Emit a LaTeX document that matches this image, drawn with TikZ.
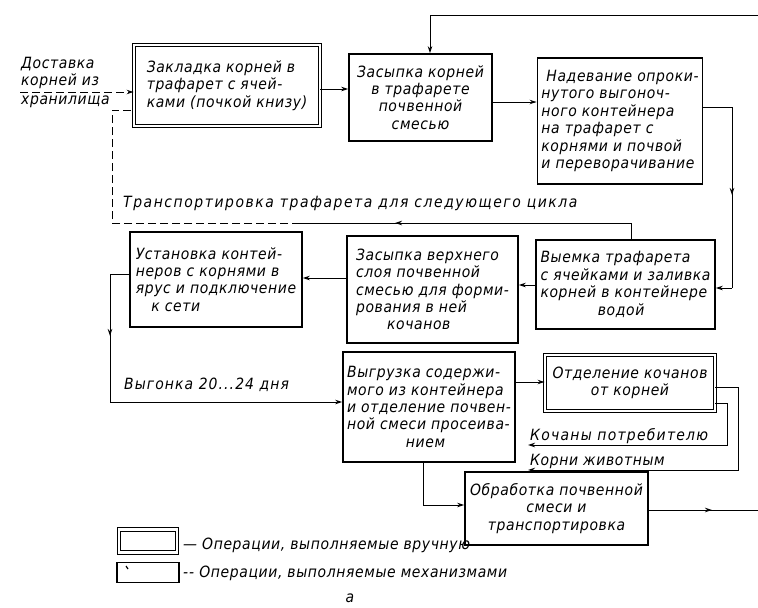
\documentclass[tikz,border=0pt]{standalone}
\usepackage{fontspec}
\setmainfont{DejaVu Sans}[FakeStretch=0.9, LetterSpace=4]
\usetikzlibrary{arrows.meta}
\begin{document}
\begin{tikzpicture}[x=1pt,y=-1pt,
  txt/.style={font=\itshape\fontsize{15.5}{17.4}\selectfont},
  mech/.style={txt, draw, line width=1.7pt, inner xsep=4pt, inner ysep=2pt},
  manual/.style={txt, draw, line width=0.9pt, double, double distance=2.8pt, inner xsep=5pt, inner ysep=3pt},
  lbl/.style={txt, inner sep=0pt},
  conn/.style={line width=1pt},
  dsh/.style={dash pattern=on 8pt off 4pt},
  arr/.style={-{Stealth[length=7pt,width=4.5pt]}}
]
\useasboundingbox (0,0) rectangle (758,608);

% boxes
\node[manual, minimum width=186pt, minimum height=81pt, align=left] (b1) at (227,85.5)
  {Закладка корней в\\трафарет с ячей-\\ками (почкой книзу)};
\node[mech, minimum width=143pt, minimum height=87pt, align=center] (b2) at (420.5,97.5)
  {Засыпка корней\\в трафарете\\почвенной\\смесью};
\node[mech, minimum width=156pt, minimum height=126pt, align=left] (b3) at (620,121)
  {\ Надевание опроки-\\нутого выгоноч-\\ного контейнера\\на трафарет с\\корнями и почвой\\и переворачивание};
\node[mech, minimum width=179pt, minimum height=89pt, align=left] (b4) at (625.5,284.5)
  {Выемка трафарета\\с ячейками и заливка\\корней в контейнере\\\hspace*{3.7em}водой};
\node[mech, minimum width=171pt, minimum height=107pt, align=left] (b5) at (432.5,289.5)
  {Засыпка верхнего\\слоя почвенной\\смесью для форми-\\рования в ней\\\hspace*{2em}кочанов};
\node[mech, minimum width=172pt, minimum height=95pt, align=left] (b9) at (216,279.5)
  {Установка контей-\\неров с корнями в\\ярус и подключение\\\hspace*{1em}к сети};
\node[mech, minimum width=172pt, minimum height=110pt, align=left] (b6) at (429,407)
  {Выгрузка содержи-\\мого из контейнера\\и отделение почвен-\\ной смеси просеива-\\\hspace*{3.8em}нием};
\node[manual, minimum width=170pt, minimum height=56pt, align=center] (b7) at (630,383)
  {Отделение кочанов\\от корней};
\node[mech, minimum width=183pt, minimum height=73pt, align=center] (b8) at (556.5,508.5)
  {Обработка почвенной\\смеси и\\транспортировка};

% free labels
\node[lbl, anchor=south west, align=left] (dost) at (21,89) {Доставка\\корней из};
\node[lbl, anchor=north west] (hran) at (21,96) {хранилища};
\node[lbl, anchor=base west, font=\itshape\fontsize{15.5}{17.4}\selectfont\addfontfeature{LetterSpace=10}] (trans) at (123,207) {Транспортировка трафарета для следующего цикла};
\node[lbl, anchor=base west, font=\itshape\fontsize{15.5}{17.4}\selectfont\addfontfeature{LetterSpace=7}] (vyg) at (124,389) {Выгонка 20...24 дня};
\node[lbl, anchor=base west, font=\itshape\fontsize{15.5}{17.4}\selectfont\addfontfeature{LetterSpace=8}] (koch) at (530,440) {Кочаны потребителю};
\node[lbl, anchor=base west] (korn) at (530,465) {Корни животным};

% coordinates
\coordinate (d0) at (20,92);
\coordinate (tr) at (758,15);
\coordinate (tl) at (430,15);
\coordinate (y12) at (0,89);
\coordinate (y23) at (0,102);
\coordinate (r1) at (732,107);
\coordinate (rm) at (732,195);
\coordinate (r2) at (732,288);
\coordinate (t1) at (631,223);
\coordinate (ta) at (395,223);
\coordinate (td) at (300,223);
\coordinate (t2) at (112,223);
\coordinate (t3) at (112,110);
\coordinate (y45) at (0,285);
\coordinate (y59) at (0,278);
\coordinate (u1) at (110,274);
\coordinate (um) at (110,336);
\coordinate (u2) at (110,402);
\coordinate (y67) at (0,382);
\coordinate (o1) at (738,387);
\coordinate (o2) at (738,470);
\coordinate (o3) at (528,470);
\coordinate (k1) at (727,403);
\coordinate (k2) at (727,445);
\coordinate (k3) at (528,445);
\coordinate (g1) at (423,505);
\coordinate (e1) at (712,510);
\coordinate (e2) at (758,510);

% connectors
\draw[conn, dsh, arr] (d0) -- (b1.west |- d0);
\draw[conn, arr] (tr) -- (tl) -- (tl |- b2.north);
\draw[conn, arr] (b1.east |- y12) -- (b2.west |- y12);
\draw[conn, arr] (b2.east |- y23) -- (b3.west |- y23);
\draw[conn] (b3.east |- r1) -- (r1) -- (r2);
\draw[conn, arr] (r1) -- (rm);
\draw[conn, arr] (r2) -- (b4.east |- r2);
\draw[conn] (t1 |- b4.north) -- (t1) -- (td);
\draw[conn, arr] (t1) -- (ta);
\draw[conn, dsh] (td) -- (t2) -- (t3) -- (b1.west |- t3);
\draw[conn, arr] (b4.west |- y45) -- (b5.east |- y45);
\draw[conn, arr] (b5.west |- y59) -- (b9.east |- y59);
\draw[conn] (b9.west |- u1) -- (u1) -- (u2);
\draw[conn, arr] (u1) -- (um);
\draw[conn, arr] (u2) -- (b6.west |- u2);
\draw[conn, arr] (b6.east |- y67) -- (b7.west |- y67);
\draw[conn, arr] (b7.east |- o1) -- (o1) -- (o2) -- (o3);
\draw[conn, arr] (b7.east |- k1) -- (k1) -- (k2) -- (k3);
\draw[conn, arr] (g1 |- b6.south) -- (g1) -- (b8.west |- g1);
\draw[conn] (b8.east |- e1) -- (e2);
\draw[conn, arr] (b8.east |- e1) -- (e1);

% legend
\node[manual, minimum width=58pt, minimum height=23pt, inner sep=0pt] (lg1) at (148,541) {};
\node[mech, minimum width=62pt, minimum height=20pt, inner sep=0pt] (lg2) at (148,572.5) {};
\draw[line width=1.2pt] (126,566) -- (128,569);
\node[lbl, anchor=base west] (leg1) at (183,549) {— Операции, выполняемые вручную};
\node[lbl, anchor=base west] (leg2) at (183,577) {-\kern1pt- Операции, выполняемые механизмами};
\node[lbl, anchor=base] (lbla) at (350,602) {а};
\end{tikzpicture}
\end{document}
